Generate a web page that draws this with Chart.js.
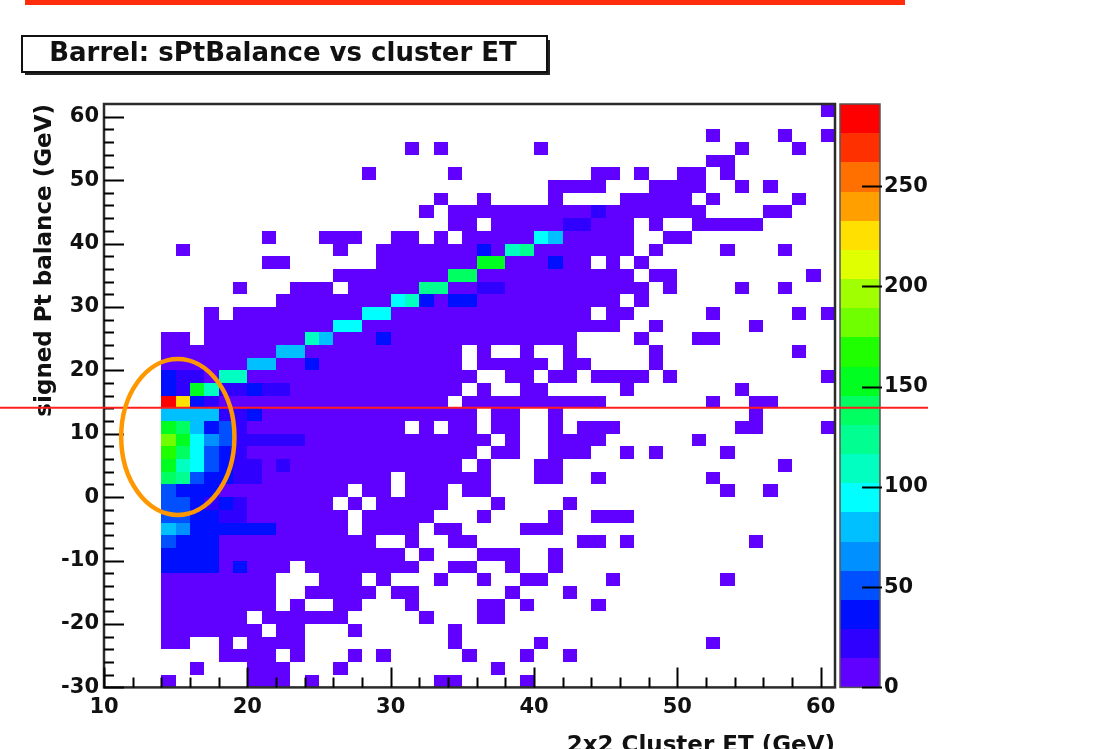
<!DOCTYPE html>
<html lang="en">
<head>
<meta charset="UTF-8">
<title>Barrel: sPtBalance vs cluster ET</title>
<script src="https://cdn.jsdelivr.net/npm/chart.js@4.4.1/dist/chart.umd.min.js"></script>
<style>
  html, body { margin: 0; padding: 0; background: #fff; }
  #wrap { width: 1098px; height: 749px; }
</style>
</head>
<body>
<div id="wrap"><canvas id="hist" width="1098" height="749"></canvas></div>
<script>
// histogram binning (GeV)
const X_MIN = 10, X_MAX = 61, X_STEP = 1;
const Y_MIN = -30, Y_MAX = 62, Y_STEP = 2;
// colour axis: 20 contour levels from 0 to Z_MAX entries
const Z_MAX = 291;
const LEVEL_CODES = '0123456789abcdefghij';
const levelColors = [
  '#6000ff', '#3000ff', '#0010ff', '#0050ff', '#0090ff',
  '#00c0ff', '#00ffff', '#00ffc0', '#00ff90', '#00ff60',
  '#00ff20', '#20ff00', '#70ff00', '#a0ff00', '#e0ff00',
  '#ffe000', '#ffa000', '#ff7000', '#ff3000', '#ff0000'
];
// signed Pt balance cut marked on the plot
const cutValue = 14.1;

// one string per y bin, top (60..62) first; one char per x bin from 10 GeV.
// '.' = empty bin, otherwise the colour level (LEVEL_CODES index)
const levelRows = [
  '..........|..........|..........|..........|..........|0',
  '..........|..........|..........|..........|..........|.',
  '..........|..........|..........|..........|..0....0..|0',
  '..........|..........|.0.0......|0.........|....0...0.|.',
  '..........|..........|..........|..........|..00......|.',
  '..........|........0.|....0.....|....00.0..|00.0......|.',
  '..........|..........|..........|.0000...00|00..0.0...|.',
  '..........|..........|...0..0...|.0....0000|0.0.....0.|.',
  '..........|..........|..0.000000|0000100000|00....00..|.',
  '..........|..........|....00.000|0011000.0.|.00000....|.',
  '..........|.0...000..|00.0.00000|6500000..0|0.........|.',
  '.....0....|......0..0|0000002078|0000000.0.|...0...0..|.',
  '..........|.00......0|000000aa00|0200.0.0..|..........|.',
  '..........|......0000|0000990000|0000000.00|.........0|.',
  '.........0|...000.000|0088001100|00000000.0|....0..0..|.',
  '..........|..00000000|6720220000|000000.0..|..........|.',
  '.......0.0|0000000066|0000000000|0000.00...|..0.....0.|0',
  '.......000|0000006600|0000000000|000000..0.|.....0....|.',
  '....00.000|0000750002|0000000000|000....0..|.00.......|.',
  '....000000|0055000000|00000.0..0|..0.....0.|........0.|.',
  '....000000|5500200000|00000.0000|0.00....0.|..........|.',
  '....211077|0000000000|000000..00|.00.0000.0|..........|0',
  '....21a711|2110000000|00000.0..0|0.....0...|....0.....|.',
  '....jf2100|0000000000|0000.00000|00000.....|..0..00...|.',
  '....555511|2000000000|000000.00.|.0........|.....0....|.',
  '....a95231|0000000000|0.0.00.00.|.0.000....|....00....|0',
  '....ca6431|1111000000|0000000.0.|.0000.....|.0........|.',
  '....b96321|0000000000|000000.00.|.000..0.0.|...0......|.',
  '....a76321|1010000000|00000.0...|00........|.......0..|.',
  '....983221|1000000000|.000000...|00..0.....|..0.......|.',
  '....322200|0000000.00|.000.00...|..........|...0..0...|.',
  '....332121|000000.0.0|0000...0..|..0.......|..........|.',
  '....332211|0000000.00|000...0...|.0..000...|..........|.',
  '....542222|2200000.00|00.00....0|00........|..........|.',
  '....322200|000000000.|.0..00....|...00.0...|.....0....|.',
  '....222200|0000000000|0.0...000.|.0........|..........|.',
  '....222202|000.000000|00..00..0.|.0........|..........|.',
  '....000000|00...000.0|...0..0..0|0....0....|...0......|.',
  '....000000|00..00000.|00......0.|..0.......|..........|.',
  '....000000|00.0..00..|.0....00.0|....0.....|..........|.',
  '....000000|.000000...|..0...00..|..........|..........|.',
  '....000000|0.00...0..|....0.....|..........|..........|.',
  '....00..0.|0000......|....0.....|0.........|..0.......|.',
  '........00|00.0...0.0|.....0...0|..0.......|..........|.',
  '......0...|000...0...|.......0..|..........|..........|.',
  '....0.....|000.0.....|...00....0|..........|..........|.'
];

// unpack the rows into bins (x, y = lower bin edges)
const cells = [];
levelRows.forEach((row, r) => {
  const yLo = Y_MAX - (r + 1) * Y_STEP;
  row.replace(/\|/g, '').split('').forEach((ch, c) => {
    if (ch === '.') return;
    cells.push({ x: X_MIN + c * X_STEP, y: yLo, level: LEVEL_CODES.indexOf(ch) });
  });
});

const FONT = '"DejaVu Sans", sans-serif';
const tickFont = { family: FONT, size: 21, weight: 'bold' };

const histPlugin = {
  id: 'hist2d',
  beforeDatasetsDraw(chart) {
    const { ctx, scales: { x, y } } = chart;
    ctx.save();
    chart.data.datasets[0].data.forEach(p => {
      const x0 = Math.round(x.getPixelForValue(p.x));
      const x1 = Math.round(x.getPixelForValue(p.x + X_STEP));
      const y0 = Math.round(y.getPixelForValue(p.y + Y_STEP));
      const y1 = Math.round(y.getPixelForValue(p.y));
      ctx.fillStyle = levelColors[p.level];
      ctx.fillRect(x0, y0, x1 - x0, y1 - y0);
    });
    ctx.restore();
  },
  afterDatasetsDraw(chart) {
    const { ctx, chartArea: a, scales: { x, y, z } } = chart;
    ctx.save();

    // frame
    ctx.strokeStyle = '#2b2b2b';
    ctx.lineWidth = 2.5;
    ctx.strokeRect(a.left, a.top, a.right - a.left, a.bottom - a.top);

    // inward ticks, major every 10, minor every 2
    ctx.strokeStyle = '#000';
    ctx.lineWidth = 2;
    ctx.beginPath();
    for (let v = Y_MIN; v <= 60; v += 2) {
      const py = Math.round(y.getPixelForValue(v)) + 0.5;
      const len = v % 10 === 0 ? 20 : 10;
      ctx.moveTo(a.left, py);
      ctx.lineTo(a.left + len, py);
    }
    for (let v = X_MIN; v <= 60; v += 2) {
      const px = Math.round(x.getPixelForValue(v)) + 0.5;
      const len = v % 10 === 0 ? 20 : 10;
      ctx.moveTo(px, a.bottom);
      ctx.lineTo(px, a.bottom - len);
    }
    ctx.stroke();

    // colour bar
    const barL = a.right + 5, barW = 40;
    const step = Z_MAX / levelColors.length;
    levelColors.forEach((col, i) => {
      const yTop = Math.round(z.getPixelForValue((i + 1) * step));
      const yBot = Math.round(z.getPixelForValue(i * step));
      ctx.fillStyle = col;
      ctx.fillRect(barL, yTop, barW, yBot - yTop);
    });
    ctx.strokeStyle = '#555';
    ctx.lineWidth = 1.5;
    ctx.strokeRect(barL, a.top, barW, a.bottom - a.top);
    ctx.strokeStyle = '#000';
    ctx.lineWidth = 2;
    ctx.beginPath();
    z.ticks.forEach(t => {
      const py = Math.round(z.getPixelForValue(t.value)) + 0.5;
      ctx.moveTo(barL + barW + 2, py);
      ctx.lineTo(barL + barW - 18, py);
    });
    ctx.stroke();

    // cut line
    const cy = y.getPixelForValue(cutValue);
    ctx.strokeStyle = '#ff1e1e';
    ctx.lineWidth = 2;
    ctx.beginPath();
    ctx.moveTo(0, cy);
    ctx.lineTo(928, cy);
    ctx.stroke();

    // ring around the low-ET region
    const ex0 = x.getPixelForValue(11.2), ex1 = x.getPixelForValue(19.1);
    const ey0 = y.getPixelForValue(21.8), ey1 = y.getPixelForValue(-2.8);
    ctx.strokeStyle = '#ff9800';
    ctx.lineWidth = 4.5;
    ctx.beginPath();
    ctx.ellipse((ex0 + ex1) / 2, (ey0 + ey1) / 2, (ex1 - ex0) / 2, (ey1 - ey0) / 2, 0, 0, Math.PI * 2);
    ctx.stroke();
    ctx.restore();
  },
  afterDraw(chart) {
    const { ctx } = chart;
    ctx.save();
    // page cut on the right
    ctx.fillStyle = '#fff';
    ctx.fillRect(928, 0, chart.width - 928, chart.height);

    // red rule on top
    ctx.fillStyle = '#ff2d0a';
    ctx.fillRect(25, 0, 880, 5);

    // title box with shadow
    ctx.fillStyle = '#222';
    ctx.fillRect(25, 40, 525, 35);
    ctx.fillStyle = '#fff';
    ctx.fillRect(22, 36, 525, 36);
    ctx.strokeStyle = '#111';
    ctx.lineWidth = 2;
    ctx.strokeRect(22, 36, 525, 36);
    ctx.fillStyle = '#111';
    ctx.font = 'bold 26px ' + FONT;
    ctx.textAlign = 'center';
    ctx.textBaseline = 'middle';
    ctx.fillText('Barrel: sPtBalance vs cluster ET', 283, 54);
    ctx.restore();
  }
};

new Chart(document.getElementById('hist'), {
  type: 'scatter',
  data: {
    datasets: [{ label: 'entries', data: cells, pointRadius: 0, pointHoverRadius: 0 }]
  },
  options: {
    responsive: false,
    animation: false,
    devicePixelRatio: 1,
    layout: { padding: { top: 104, left: 0, right: 0, bottom: 0 } },
    plugins: { legend: { display: false }, tooltip: { enabled: false } },
    scales: {
      x: {
        type: 'linear', position: 'bottom', min: X_MIN, max: X_MAX,
        grid: { display: false, drawTicks: false }, border: { display: false },
        ticks: { stepSize: 10, includeBounds: false, autoSkip: false, maxRotation: 0,
                 padding: 8, color: '#111', font: tickFont },
        title: { display: true, text: '2x2 Cluster ET (GeV)', align: 'end', color: '#111',
                 font: { family: FONT, size: 23, weight: 'bold' }, padding: { top: 0, bottom: -13 } },
        afterFit: s => { s.height = 59; }
      },
      y: {
        type: 'linear', position: 'left', min: Y_MIN, max: Y_MAX,
        grid: { display: false, drawTicks: false }, border: { display: false },
        ticks: { stepSize: 10, includeBounds: false, autoSkip: false,
                 padding: 5, color: '#111', font: tickFont },
        title: { display: true, text: 'signed Pt balance (GeV)', align: 'end', color: '#111',
                 font: { family: FONT, size: 23, weight: 'bold' }, padding: { top: 31, bottom: 0 } },
        afterFit: s => { s.width = 104; }
      },
      z: {
        type: 'linear', axis: 'y', position: 'right', min: 0, max: Z_MAX,
        grid: { display: false, drawTicks: false }, border: { display: false },
        ticks: { stepSize: 50, includeBounds: false, autoSkip: false,
                 padding: 49, color: '#111', font: tickFont },
        afterFit: s => { s.width = 263; }
      }
    }
  },
  plugins: [histPlugin]
});
</script>
</body>
</html>
